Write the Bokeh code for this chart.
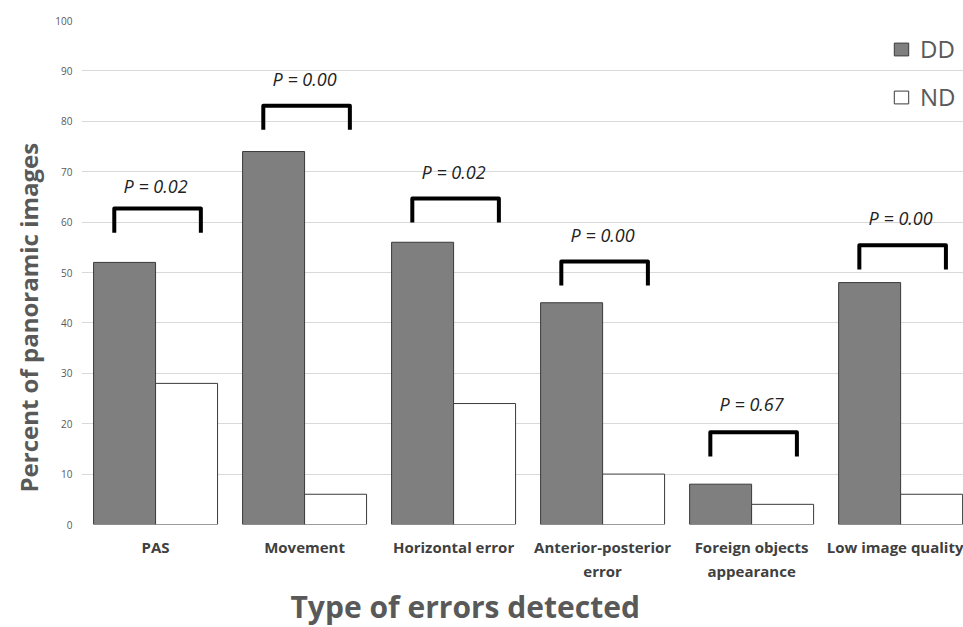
import numpy as np
from bokeh.plotting import figure
from bokeh.models import Range1d, FixedTicker, Legend, LegendItem, ColumnDataSource, Title
from bokeh.core.properties import value
from bokeh.embed import file_html
from bokeh.resources import INLINE

categories = ["PAS", "Movement", "Horizontal error", "Anterior-posterior\nerror",
              "Foreign objects\nappearance", "Low image quality"]
dd_values = [52, 74, 56, 44, 8, 48]
nd_values = [28, 6, 24, 10, 4, 6]
p_labels = ["P = 0.02", "P = 0.00", "P = 0.02", "P = 0.00", "P = 0.67", "P = 0.00"]
bracket_tops = [62.7, 83.1, 64.7, 52.2, 18.3, 55.4]
p_label_y = [67.1, 88.3, 70.0, 57.5, 24.0, 60.9]
y_ticks = list(range(0, 101, 10))

FONT = "Open Sans"
x = np.arange(len(categories))

p = figure(width=963, height=627, output_backend="svg", toolbar_location=None,
           x_range=Range1d(-0.497, 5.422), y_range=Range1d(0, 100),
           min_border_left=81, min_border_right=0, min_border_top=20, min_border_bottom=103)
p.outline_line_color = None
p.background_fill_color = "white"

bw = 0.416
r_dd = p.vbar(x=x - bw / 2, top=dd_values, width=bw, fill_color="#7f7f7f",
              line_color="#3a3a3a", line_width=1)
r_nd = p.vbar(x=x + bw / 2, top=nd_values, width=bw, fill_color="white",
              line_color="#3a3a3a", line_width=1)

leg = 4.8
xs = [[i - 0.277, i - 0.277, i + 0.304, i + 0.304] for i in x]
ys = [[t - leg, t, t, t - leg] for t in bracket_tops]
p.multi_line(xs=xs, ys=ys, line_color="black", line_width=4, line_join="round", line_cap="butt")

src = ColumnDataSource(dict(x=x, y=p_label_y, t=p_labels))
p.text(x="x", y="y", text="t", source=src, text_font=value(FONT), text_font_size="18px",
       text_font_style="italic", text_color="#222222", text_align="center", text_baseline="middle")

# axes
p.xaxis.ticker = FixedTicker(ticks=list(x))
p.xaxis.major_label_overrides = {int(i): c for i, c in zip(x, categories)}
p.xaxis.axis_line_color = None
p.xaxis.major_tick_line_color = None
p.xaxis.minor_tick_line_color = None
p.xaxis.major_label_text_font = FONT
p.xaxis.major_label_text_font_size = "15px"
p.xaxis.major_label_text_font_style = "bold"
p.xaxis.major_label_text_color = "#404040"
p.xaxis.major_label_standoff = 6

p.yaxis.ticker = FixedTicker(ticks=y_ticks)
p.yaxis.axis_line_color = None
p.yaxis.major_tick_line_color = None
p.yaxis.minor_tick_line_color = None
p.yaxis.major_label_text_font = FONT
p.yaxis.major_label_text_font_size = "10px"
p.yaxis.major_label_text_color = "#595959"
p.yaxis.major_label_standoff = 3

p.add_layout(Title(text="Percent  of panoramic images", align="left", offset=32,
                   text_font=FONT, text_font_size="24px", text_font_style="bold",
                   text_color="#595959", standoff=16), "left")
p.add_layout(Title(text="Type of errors detected", align="left", offset=209,
                   text_font=FONT, text_font_size="30px", text_font_style="bold",
                   text_color="#595959", standoff=1), "below")

p.xgrid.grid_line_color = None
p.ygrid.grid_line_color = "#d9d9d9"
p.ygrid.grid_line_width = 1

legend = Legend(items=[LegendItem(label="DD", renderers=[r_dd]),
                       LegendItem(label="ND", renderers=[r_nd])],
                location=(811, 411))
legend.background_fill_alpha = 0
legend.border_line_color = None
legend.label_text_font = FONT
legend.label_text_font_size = "24px"
legend.label_text_color = "#595959"
legend.glyph_width = 18
legend.glyph_height = 16
legend.label_height = 26
legend.spacing = 15
legend.label_standoff = 10
legend.margin = 0
legend.padding = 0
p.add_layout(legend)

open("out.html", "w").write(file_html(p, INLINE))
